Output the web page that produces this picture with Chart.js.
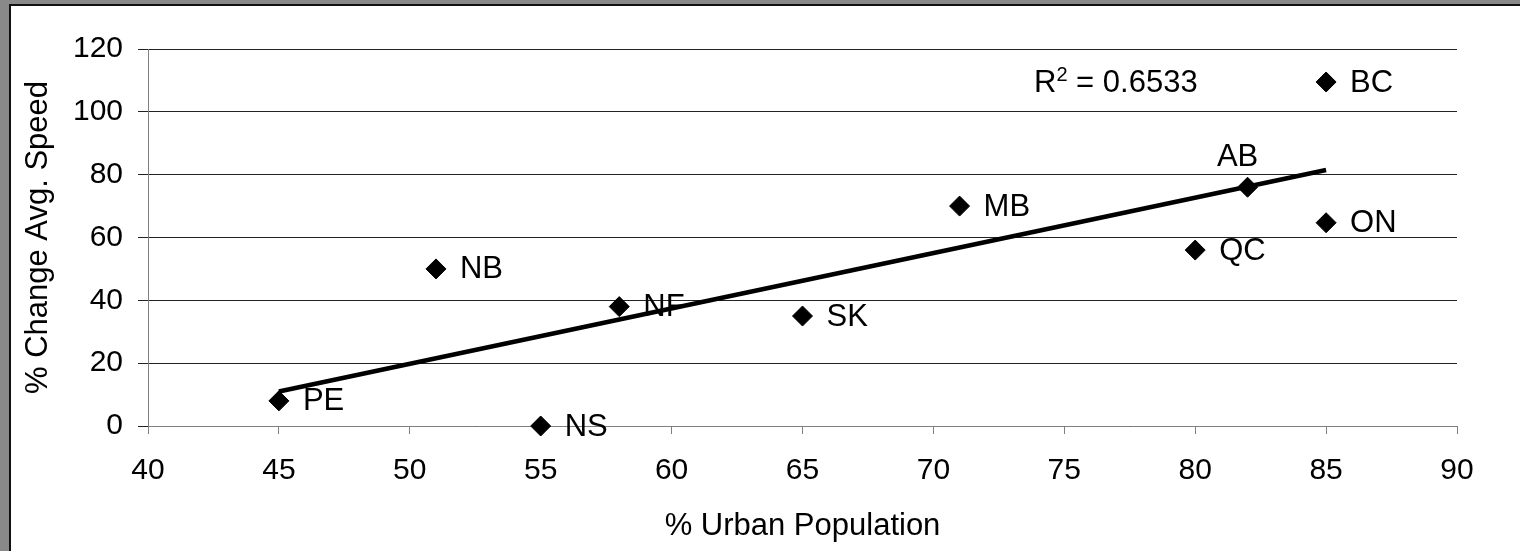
<!DOCTYPE html>
<html>
<head>
<meta charset="utf-8">
<script src="https://cdn.jsdelivr.net/npm/chart.js@4/dist/chart.umd.min.js"></script>
<style>
  html, body { margin: 0; padding: 0; width: 1520px; height: 551px; overflow: hidden; background: #898989; }
  #frame { position: absolute; left: 9px; top: 4px; width: 1511px; height: 547px; background: #fff; border-left: 2px solid #111; border-top: 2px solid #111; box-sizing: border-box; }
  #c { position: absolute; left: 0; top: 0; }
</style>
</head>
<body>
<div id="frame"></div>
<canvas id="c" width="1520" height="551"></canvas>
<script>
// ---- data ----
const provinces = ['PE', 'NS', 'NB', 'NF', 'SK', 'MB', 'QC', 'AB', 'ON', 'BC'];
const urbanPct = [45, 55, 51, 58, 65, 71, 80, 82, 85, 85];
const speedChangePct = [8, 0, 50, 38, 35, 70, 56, 76, 64.7, 109.5];
const trendX = [45, 85];
const trendY = [11, 81.5];
const rSquaredText = '0.6533';
const xAxisTitle = '% Urban Population';
const yAxisTitle = '% Change Avg. Speed';
const labelsAbove = ['AB'];

const FONT = '"Liberation Sans", Arial, sans-serif';

const scatterPoints = urbanPct.map((x, i) => ({ x: x, y: speedChangePct[i] }));
const trendPoints = trendX.map((x, i) => ({ x: x, y: trendY[i] }));

const labelPlugin = {
  id: 'pointLabels',
  beforeDatasetsDraw(chart) {
    const ctx = chart.ctx;
    const meta = chart.getDatasetMeta(0);
    ctx.save();
    ctx.fillStyle = '#000';
    ctx.font = '31px ' + FONT;
    meta.data.forEach((pt, i) => {
      const name = provinces[i];
      if (labelsAbove.includes(name)) {
        ctx.textAlign = 'center';
        ctx.textBaseline = 'middle';
        ctx.fillText(name, pt.x - 10, pt.y - 30);
      } else {
        ctx.textAlign = 'left';
        ctx.textBaseline = 'middle';
        ctx.fillText(name, pt.x + 24, pt.y + 1);
      }
    });
    // R squared annotation
    const area = chart.chartArea;
    const x0 = area.left + 886;
    const base = area.top + 43;
    ctx.textAlign = 'left';
    ctx.textBaseline = 'alphabetic';
    ctx.font = '31px ' + FONT;
    ctx.fillText('R', x0, base);
    let x = x0 + ctx.measureText('R').width;
    ctx.font = '20px ' + FONT;
    ctx.fillText('2', x, base - 11);
    x += ctx.measureText('2').width;
    ctx.font = '31px ' + FONT;
    ctx.fillText(' = ' + rSquaredText, x, base);
    ctx.restore();
  }
};

new Chart(document.getElementById('c'), {
  type: 'scatter',
  data: {
    datasets: [
      {
        label: 'Provinces',
        data: scatterPoints,
        pointStyle: 'rectRot',
        pointRadius: 10,
        pointHoverRadius: 10,
        backgroundColor: '#000',
        borderColor: '#000',
        borderWidth: 1,
        clip: false,
        order: 1
      },
      {
        type: 'line',
        label: 'Linear trend',
        data: trendPoints,
        borderColor: '#000',
        borderWidth: 4.5,
        pointRadius: 0,
        fill: false,
        clip: false,
        order: 0
      }
    ]
  },
  options: {
    responsive: false,
    animation: false,
    devicePixelRatio: 1,
    layout: { padding: { left: 0, top: 49, right: 63, bottom: 0 } },
    plugins: {
      legend: { display: false },
      tooltip: { enabled: false }
    },
    scales: {
      x: {
        type: 'linear',
        min: 40, max: 90,
        offset: false,
        afterFit(scale) { scale.height = 125; },
        ticks: { stepSize: 5, color: '#000', padding: 19, font: { family: FONT, size: 30 }, maxRotation: 0 },
        grid: { drawOnChartArea: false, drawTicks: true, tickLength: 8, color: '#808080', lineWidth: 1 },
        border: { display: true, color: '#808080', width: 1 },
        title: { display: true, text: xAxisTitle, color: '#000', font: { family: FONT, size: 31 }, padding: { top: 0, bottom: 6 } }
      },
      y: {
        type: 'linear',
        min: 0, max: 120,
        afterFit(scale) { scale.width = 148; },
        ticks: { stepSize: 20, color: '#000', padding: 15, font: { family: FONT, size: 30 } },
        grid: { drawOnChartArea: true, drawTicks: true, tickLength: 10, color: '#222', lineWidth: 1 },
        border: { display: true, color: '#808080', width: 1 },
        title: { display: true, text: yAxisTitle, color: '#000', font: { family: FONT, size: 31 }, padding: { top: 20, bottom: 0 } }
      }
    }
  },
  plugins: [labelPlugin]
});
</script>
</body>
</html>
